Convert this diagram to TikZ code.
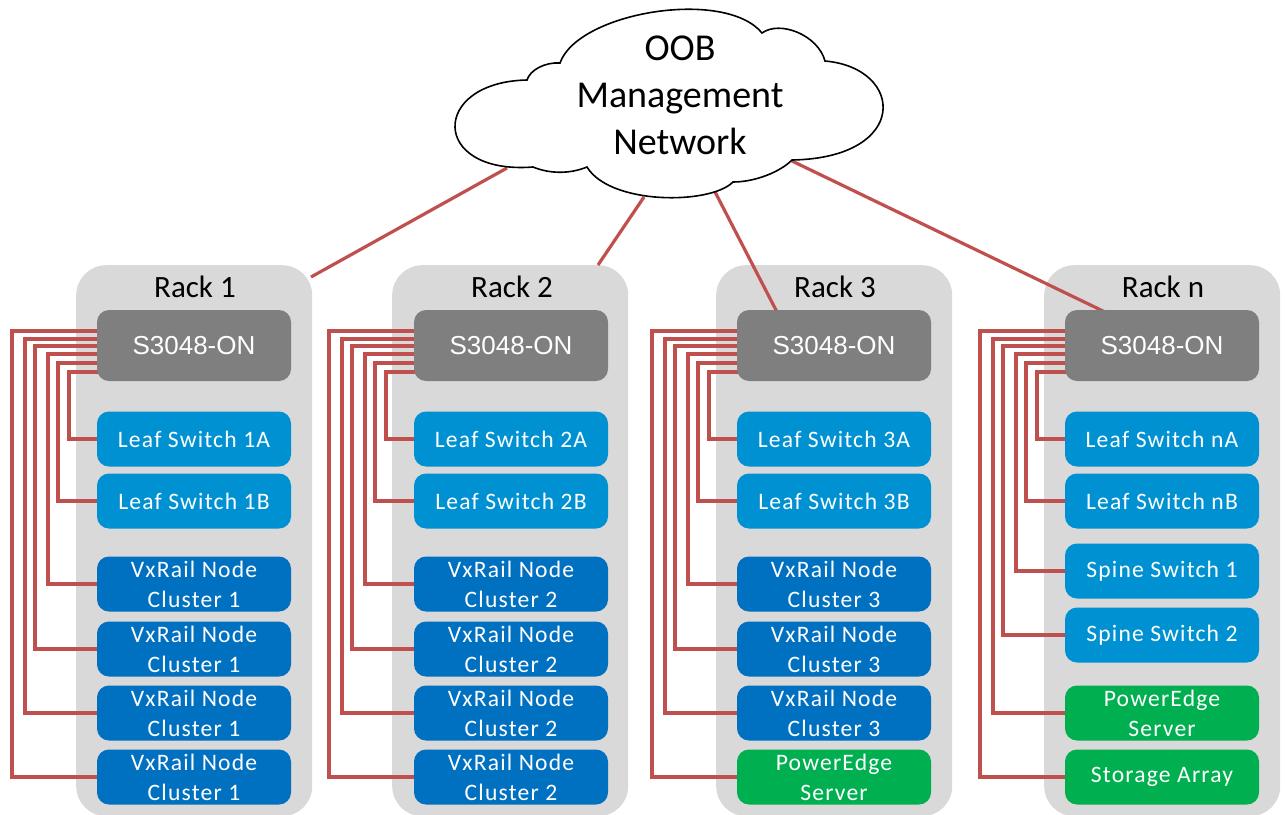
\documentclass[tikz,border=0pt]{standalone}
\usepackage{fontspec}
\setmainfont{Carlito}
\newfontfamily\arialf{Liberation Sans}
\definecolor{rackgray}{HTML}{D9D9D9}
\definecolor{swgray}{HTML}{7F7F7F}
\definecolor{leafblue}{HTML}{0091D2}
\definecolor{vxblue}{HTML}{0070C0}
\definecolor{pegreen}{HTML}{00B050}
\definecolor{wirered}{HTML}{C0504D}
\pgfdeclarelayer{racks}
\pgfdeclarelayer{wires}
\pgfsetlayers{racks,wires,main}
\begin{document}
\begin{tikzpicture}[x=1pt,y=-1pt,
  rackbox/.style={fill=rackgray, rounded corners=30pt, minimum width=236pt, minimum height=551pt, inner sep=0pt, anchor=north west},
  racklabel/.style={font=\fontsize{31}{36}\selectfont, text=black, inner sep=0pt},
  mgmt/.style={fill=swgray, rounded corners=12pt, minimum width=194pt, minimum height=71pt, inner sep=0pt, text=white, font=\arialf\fontsize{26}{30}\selectfont},
  dev/.style={rounded corners=12pt, minimum width=194pt, minimum height=55pt, inner sep=0pt, text=white, align=center, font=\fontsize{23.6}{30}\selectfont\addfontfeature{LetterSpace=5}},
  leaf/.style={dev, fill=leafblue},
  vx/.style={dev, fill=vxblue},
  pe/.style={dev, fill=pegreen},
  wire/.style={draw=wirered, line width=3.2pt},
  cloudline/.style={draw=black, fill=white, line width=1.6pt},
  cloudtext/.style={font=\fontsize{38}{47}\selectfont, align=center, inner sep=0pt}
]
\useasboundingbox (0,0) rectangle (1285,814);

% racks, labels, switches
\foreach \rk/\L/\cx in {1/76/194, 2/392/511, 3/716/834, n/1044/1162} {
  \begin{pgfonlayer}{racks}
    \node[rackbox] (rack\rk) at (\L,265) {};
  \end{pgfonlayer}
  \node[racklabel] (lab\rk) at (\cx+1,287) {Rack \rk};
  \node[mgmt] (s\rk) at (\cx,345.5) {S3048-ON};
  \node[leaf] (d\rk 1) at (\cx,439) {Leaf Switch \rk A};
  \node[leaf] (d\rk 2) at (\cx,501) {Leaf Switch \rk B};
}
% racks 1 and 2
\foreach \rk/\cx in {1/194, 2/511} {
  \node[vx] (d\rk 3) at (\cx,584) {VxRail Node\\Cluster \rk};
  \node[vx] (d\rk 4) at (\cx,649) {VxRail Node\\Cluster \rk};
  \node[vx] (d\rk 5) at (\cx,713) {VxRail Node\\Cluster \rk};
  \node[vx] (d\rk 6) at (\cx,777) {VxRail Node\\Cluster \rk};
}
% rack 3
\node[vx] (d33) at (834,584) {VxRail Node\\Cluster 3};
\node[vx] (d34) at (834,649) {VxRail Node\\Cluster 3};
\node[vx] (d35) at (834,713) {VxRail Node\\Cluster 3};
\node[pe] (d36) at (834,777) {PowerEdge\\Server};
% rack n
\node[leaf] (dn3) at (1162,571) {Spine Switch 1};
\node[leaf] (dn4) at (1162,635) {Spine Switch 2};
\node[pe] (dn5) at (1162,713) {PowerEdge\\Server};
\node[pe] (dn6) at (1162,777) {Storage Array};

% management wiring
\begin{pgfonlayer}{wires}
\foreach \rk in {1,2,3,n} {
  \draw[wire] ([yshift=-26.5pt]s\rk.center) -- ++(-125,0) |- (d\rk 1);
  \draw[wire] ([yshift=-17.5pt]s\rk.center) -- ++(-136,0) |- (d\rk 2);
  \draw[wire] ([yshift=-8.5pt]s\rk.center) -- ++(-146,0) |- (d\rk 3);
  \draw[wire] ([yshift=-0.5pt]s\rk.center) -- ++(-159,0) |- (d\rk 4);
  \draw[wire] ([yshift=6.5pt]s\rk.center) -- ++(-169,0) |- (d\rk 5);
  \draw[wire] ([yshift=14.5pt]s\rk.center) -- ++(-182,0) |- (d\rk 6);
}
% cloud uplinks
\coordinate (c1) at (507,168);
\coordinate (c2) at (644,197);
\coordinate (c3) at (713,188);
\coordinate (c4) at (792,161);
\coordinate (e1) at (311,277);
\coordinate (e2) at (598,265);
\coordinate (e3) at (777,312);
\coordinate (e4) at (1105,312);
\draw[wire] (c1) -- (e1);
\draw[wire] (c2) -- (e2);
\draw[wire] (c3) -- (e3);
\draw[wire] (c4) -- (e4);
\end{pgfonlayer}

% cloud
\draw[cloudline] (527,80) .. controls (530,70) and (545,62) .. (560,63)
  .. controls (578,12) and (725,-12) .. (762,33)
  .. controls (780,20) and (818,35) .. (825,61)
  .. controls (905,68) and (910,158) .. (792,160)
  .. controls (780,172) and (755,182) .. (733,182)
  .. controls (710,205) and (610,205) .. (587,167)
  .. controls (570,174) and (550,174) .. (533,167)
  .. controls (430,175) and (430,82) .. cycle;
\node[cloudtext] (oob) at (680,95) {OOB\\Management\\Network};
\end{tikzpicture}
\end{document}
